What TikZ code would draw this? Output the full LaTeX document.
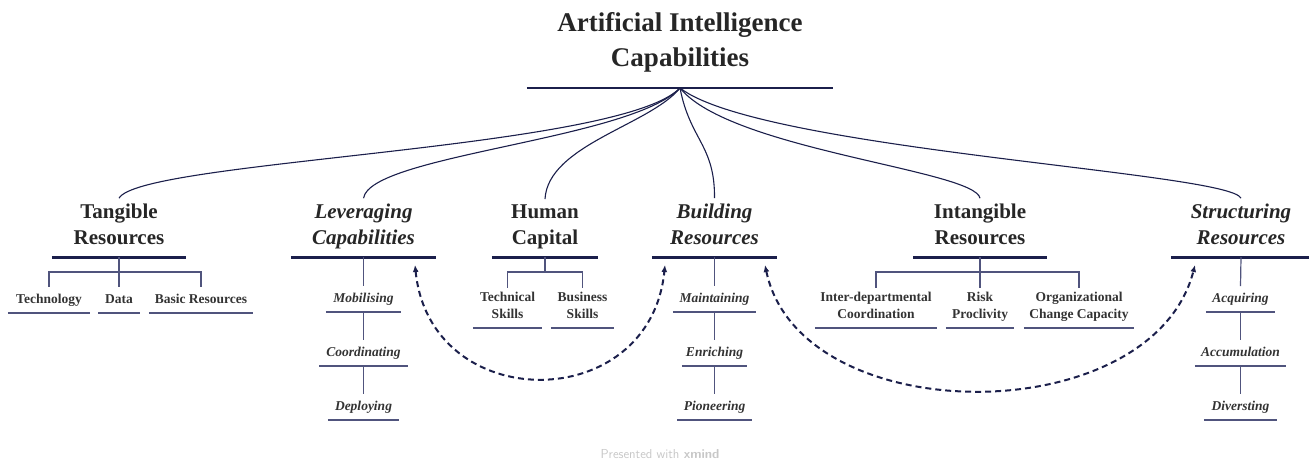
\documentclass[tikz,border=0pt]{standalone}
\usepackage{fontspec}
\setmainfont{Liberation Serif}
\usepackage{xcolor}
\usetikzlibrary{arrows.meta}
\definecolor{inkblue}{RGB}{27,31,75}
\definecolor{leafblue}{RGB}{80,84,125}

\begin{document}
\begin{tikzpicture}[x=1pt, y=-1pt,
  rootbox/.style={font=\fontsize{27}{35}\selectfont\bfseries, align=center, anchor=south, inner xsep=0, inner ysep=11, execute at end node=\strut, text=black!85},
  headbox/.style={font=\fontsize{21}{26}\selectfont\bfseries, align=center, anchor=south, inner xsep=0, inner ysep=5, execute at end node=\strut, text=black!85},
  leafbox/.style={font=\fontsize{13.5}{16.5}\selectfont\bfseries, align=center, anchor=south, inner xsep=0, inner ysep=4.5, execute at end node=\strut, text=black!80},
  rootline/.style={draw=inkblue, line width=2.5},
  headline/.style={draw=inkblue, line width=3},
  leafline/.style={draw=leafblue, line width=1.3},
  link/.style={draw=inkblue, line width=1.1},
  stemline/.style={draw=leafblue, line width=1.2},
  linkarrow/.style={draw=inkblue, line width=2, dash pattern=on 6pt off 4pt, {Latex[length=7,width=6]}-{Latex[length=7,width=6]}}]
\useasboundingbox (0,0) rectangle (1309,461);
% root
\node[rootbox, minimum width=306] (ai) at (680,88) {Artificial Intelligence\\Capabilities};
\draw[rootline] (ai.south west) -- (ai.south east);
% branches
\node[headbox, minimum width=134] (tang) at (119,257) {Tangible\\Resources};
\node[headbox, minimum width=145] (lev) at (363.5,257) {\textit{Leveraging}\\\textit{Capabilities}};
\node[headbox, minimum width=106] (hum) at (545,257) {Human\\Capital};
\node[headbox, minimum width=125] (bld) at (714.5,257) {\textit{Building}\\\textit{Resources}};
\node[headbox, minimum width=133] (intg) at (980,257) {Intangible\\Resources};
\node[headbox, minimum width=140] (strc) at (1241,257) {\textit{Structuring}\\\textit{Resources}};
\foreach \h in {tang,lev,hum,bld,intg,strc}
  \draw[headline] (\h.south west) -- (\h.south east);
% links from the root
\draw[link] (ai.south) .. controls (620,150) and (140,160) .. (tang.north);
\draw[link] (ai.south) .. controls (630,140) and (370,155) .. (lev.north);
\draw[link] (ai.south) .. controls (650,125) and (548,145) .. (hum.north);
\draw[link] (ai.south) .. controls (690,140) and (715,145) .. (bld.north);
\draw[link] (ai.south) .. controls (730,150) and (975,170) .. (intg.north);
\draw[link] (ai.south) .. controls (760,150) and (1230,172) .. (strc.north);
% leaves
\node[leafbox, minimum width=82] (tech) at (49,313) {Technology};
\node[leafbox, minimum width=41] (data) at (119,313) {Data};
\node[leafbox, minimum width=104] (basic) at (201,313) {Basic Resources};
\node[leafbox, minimum width=75] (mob) at (363.5,312) {\textit{Mobilising}};
\node[leafbox, minimum width=88] (coord) at (363.5,366) {\textit{Coordinating}};
\node[leafbox, minimum width=71] (depl) at (363.5,420) {\textit{Deploying}};
\node[leafbox, minimum width=69] (techsk) at (507.5,328) {Technical\\Skills};
\node[leafbox, minimum width=63] (bussk) at (582.5,328) {Business\\Skills};
\node[leafbox, minimum width=83] (maint) at (714.5,312) {\textit{Maintaining}};
\node[leafbox, minimum width=65] (enr) at (714.5,366) {\textit{Enriching}};
\node[leafbox, minimum width=74] (pion) at (714.5,420) {\textit{Pioneering}};
\node[leafbox, minimum width=122] (inter) at (876,328) {Inter-departmental\\Coordination};
\node[leafbox, minimum width=68] (risk) at (980,328) {Risk\\Proclivity};
\node[leafbox, minimum width=110] (org) at (1079,328) {Organizational\\Change Capacity};
\node[leafbox, minimum width=69] (acq) at (1240.5,312) {\textit{Acquiring}};
\node[leafbox, minimum width=91] (accu) at (1240.5,366) {\textit{Accumulation}};
\node[leafbox, minimum width=73] (divr) at (1240.5,420) {\textit{Diversting}};
\foreach \l in {tech,data,basic,mob,coord,depl,techsk,bussk,maint,enr,pion,inter,risk,org,acq,accu,divr}
  \draw[leafline] (\l.south west) -- (\l.south east);
% brackets
\draw[stemline] (tang.south) -- (data.north);
\draw[stemline] (tang.south) ++(0,15) -| (tech.north);
\draw[stemline] (tang.south) ++(0,15) -| (basic.north);
\draw[stemline] (hum.south) -- ++(0,15) -| (techsk.north);
\draw[stemline] (hum.south) ++(0,15) -| (bussk.north);
\draw[stemline] (intg.south) -- (risk.north);
\draw[stemline] (intg.south) ++(0,15) -| (inter.north);
\draw[stemline] (intg.south) ++(0,15) -| (org.north);
% chains
\draw[stemline] (lev.south) -- (mob.north);
\draw[stemline] (mob.south) -- (coord.north);
\draw[stemline] (coord.south) -- (depl.north);
\draw[stemline] (bld.south) -- (maint.north);
\draw[stemline] (maint.south) -- (enr.north);
\draw[stemline] (enr.south) -- (pion.north);
\draw[stemline] (strc.south) -- (acq.north);
\draw[stemline] (acq.south) -- (accu.north);
\draw[stemline] (accu.south) -- (divr.north);
% dashed arrows
\coordinate (levtip) at (415,265);
\coordinate (bldleft) at (665,265);
\coordinate (bldright) at (765,265);
\coordinate (strtip) at (1195,265);
\draw[linkarrow] (levtip) .. controls (430,416) and (650,416) .. (bldleft);
\draw[linkarrow] (bldright) .. controls (800,432) and (1152,432) .. (strtip);
% footer
\node[font=\sffamily\fontsize{13}{15}\selectfont, text=black!22] (brand) at (660,454) {Presented with \textbf{xmind}};
\end{tikzpicture}
\end{document}
